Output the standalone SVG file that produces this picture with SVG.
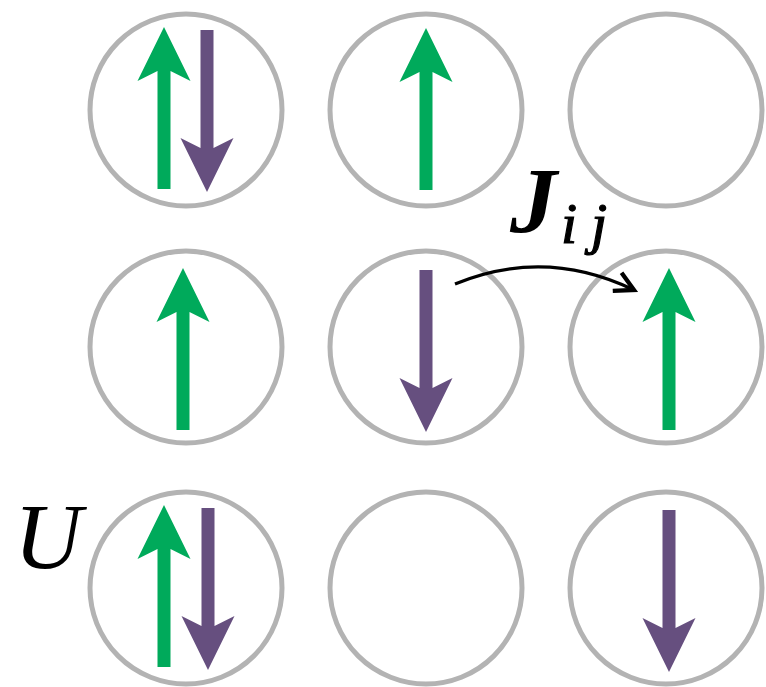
<svg xmlns="http://www.w3.org/2000/svg" xmlns:xlink="http://www.w3.org/1999/xlink" width="766" height="687" viewBox="0 0 766 687">
<style>
.site{fill:#fff;stroke:#b3b3b3;stroke-width:5}
.up{fill:#00aa5b}
.dn{fill:#664f7f}
.lbl{font-family:"Liberation Serif",serif;font-style:italic;fill:#000}
.sub{stroke:#000;stroke-width:1.2}
</style>
<defs>
<path id="arr" d="M -6.5 162 L -6.5 44 L -26.5 54 L 0 0 L 26.5 54 L 6.5 44 L 6.5 162 Z"/>
<marker id="vh" viewBox="0 0 20 20" refX="17" refY="10" markerWidth="9" markerHeight="9" orient="auto" markerUnits="strokeWidth">
<path d="M 4 3 L 17 10 L 4 17" fill="none" stroke="#000" stroke-width="3" stroke-linejoin="miter"/>
</marker>
</defs>
<rect width="766" height="687" fill="#fff"/>
<g id="site-1-1"><circle class="site" cx="186" cy="110" r="96"/>
<use href="#arr" class="up" transform="translate(164,27)"/>
<use href="#arr" class="dn" transform="translate(207,192) rotate(180)"/></g>
<g id="site-1-2"><circle class="site" cx="426" cy="110" r="96"/>
<use href="#arr" class="up" transform="translate(426,28)"/></g>
<g id="site-1-3"><circle class="site" cx="666" cy="110" r="96"/></g>
<g id="site-2-1"><circle class="site" cx="186" cy="347" r="96"/>
<use href="#arr" class="up" transform="translate(183,268)"/></g>
<g id="site-2-2"><circle class="site" cx="426" cy="347" r="96"/>
<use href="#arr" class="dn" transform="translate(426,432) rotate(180)"/></g>
<g id="site-2-3"><circle class="site" cx="666" cy="347" r="96"/>
<use href="#arr" class="up" transform="translate(669,268)"/></g>
<g id="site-3-1"><circle class="site" cx="186" cy="588" r="96"/>
<use href="#arr" class="up" transform="translate(164,505)"/>
<use href="#arr" class="dn" transform="translate(208,670) rotate(180)"/></g>
<g id="site-3-2"><circle class="site" cx="426" cy="588" r="96"/></g>
<g id="site-3-3"><circle class="site" cx="666" cy="588" r="96"/>
<use href="#arr" class="dn" transform="translate(669,672) rotate(180)"/></g>
<g id="connectors">
<path d="M 455 284 Q 545 247 634 290" fill="none" stroke="#000" stroke-width="3.2" marker-end="url(#vh)"/>
</g>
<g id="labels">
<text class="lbl" x="510" y="232" font-size="94" font-weight="bold">J</text>
<text class="lbl sub" x="561" y="243" font-size="58">i</text>
<text class="lbl sub" x="591" y="243" font-size="58">j</text>
<text class="lbl" x="14" y="568" font-size="94">U</text>
</g>
</svg>
